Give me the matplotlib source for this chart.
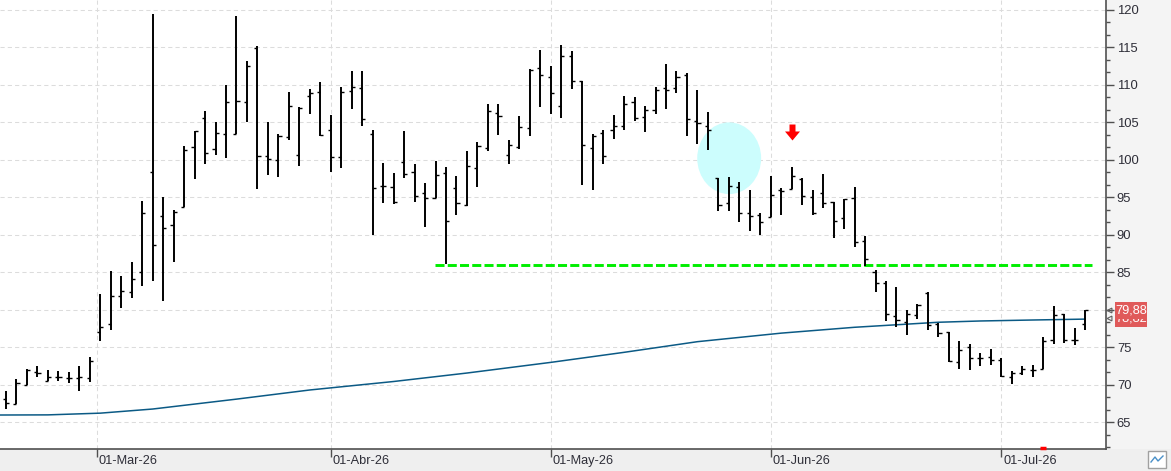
import matplotlib
matplotlib.use("Agg")
import matplotlib.pyplot as plt
import numpy as np
import pandas as pd
from matplotlib.patches import Ellipse, Rectangle
from matplotlib.path import Path
from matplotlib.transforms import blended_transform_factory, ScaledTranslation
from matplotlib.ticker import MultipleLocator, FixedLocator

plt.rcParams['font.family'] = ['Liberation Sans', 'DejaVu Sans']

# daily bars, 17-Feb-26 .. 13-Jul-26 (Good Friday closed)
dates = pd.bdate_range('2026-02-17', '2026-07-13').drop(pd.Timestamp('2026-04-03'))
month_starts = pd.to_datetime(['2026-03-01', '2026-04-01', '2026-05-01', '2026-06-01', '2026-07-01'])
month_labels = ['01-Mar-26', '01-Abr-26', '01-May-26', '01-Jun-26', '01-Jul-26']

opens = [68.09, 67.40, 70.00, 71.69, 70.50, 71.00, 70.93, 70.93, 70.93, 77.00,
         78.07, 81.80, 82.38, 84.95, 98.31, 92.45, 91.25, 93.65, 101.63, 105.49,
         101.37, 103.36, 103.36, 107.62, 114.81, 100.43, 99.90, 102.96, 100.57, 108.46,
         108.95, 103.90, 100.30, 109.09, 109.49, 103.36, 96.44, 96.31, 99.64, 98.31,
         95.51, 94.85, 98.17, 96.18, 93.87, 98.84, 101.50, 106.16, 100.57, 101.72,
         104.16, 112.19, 110.99, 107.13, 113.74, 110.42, 101.50, 103.50, 103.90, 104.43,
         107.62, 105.63, 106.56, 109.49, 109.49, 111.22, 105.14, 104.43, 97.51, 94.18,
         96.31, 92.89, 92.58, 92.32, 95.95, 96.04, 97.37, 94.98, 95.51, 94.40,
         92.18, 94.85, 89.12, 85.04, 83.53, 79.14, 78.34, 79.27, 82.24, 78.12,
         77.01, 73.06, 75.01, 73.59, 73.68, 73.28, 71.06, 71.51, 71.91, 72.09,
         75.94, 79.41, 75.94, 78.07]
highs = [69.11, 70.67, 72.09, 72.44, 72.00, 71.86, 71.64, 72.44, 73.64, 82.11,
         85.08, 84.50, 86.28, 94.49, 119.38, 94.98, 93.25, 101.77, 103.85, 106.47,
         105.00, 109.93, 119.11, 113.12, 115.12, 105.00, 103.36, 109.00, 107.00, 109.35,
         110.33, 105.94, 109.66, 111.79, 111.79, 103.94, 99.55, 98.22, 103.81, 99.41,
         96.89, 99.86, 99.02, 97.82, 101.14, 102.34, 107.40, 107.40, 102.61, 105.80,
         112.06, 114.59, 112.46, 115.25, 114.41, 110.42, 103.45, 103.94, 105.98, 108.51,
         108.33, 107.13, 109.66, 112.68, 111.79, 111.48, 109.26, 106.34, 97.51, 97.64,
         97.02, 95.95, 92.89, 97.82, 96.18, 98.97, 97.51, 95.95, 98.08, 94.40,
         94.76, 96.35, 89.83, 85.26, 83.80, 83.00, 79.98, 80.74, 82.33, 78.21,
         77.01, 75.86, 75.46, 74.22, 74.79, 73.59, 71.86, 72.53, 72.66, 76.39,
         80.51, 79.41, 77.59, 79.94]
lows = [66.76, 67.34, 70.00, 70.98, 70.45, 70.45, 70.20, 69.10, 70.31, 75.77,
        77.23, 80.16, 81.49, 83.09, 83.75, 81.09, 86.28, 93.65, 97.46, 99.46,
        100.61, 100.26, 103.36, 105.05, 96.13, 98.00, 97.64, 102.65, 99.19, 106.03,
        103.19, 98.39, 98.93, 106.78, 104.52, 89.88, 94.23, 94.09, 97.60, 94.40,
        90.94, 94.84, 86.06, 92.63, 93.78, 96.40, 101.19, 103.27, 99.41, 101.41,
        103.14, 107.05, 106.11, 105.58, 109.44, 96.66, 96.00, 99.41, 102.79, 103.98,
        105.18, 103.72, 106.02, 106.78, 108.82, 103.19, 102.12, 101.32, 93.07, 93.07,
        91.61, 90.50, 89.88, 92.32, 92.63, 96.04, 93.87, 92.54, 93.60, 89.48,
        90.67, 88.28, 85.75, 82.29, 78.43, 77.63, 76.57, 78.70, 77.23, 76.34,
        72.97, 72.09, 71.91, 72.44, 72.62, 71.06, 70.09, 71.29, 71.02, 72.09,
        75.37, 75.50, 75.23, 77.23]
closes = [67.47, 70.22, 72.00, 71.55, 71.00, 71.00, 70.84, 71.00, 73.15, 77.67,
          81.80, 82.51, 84.11, 92.85, 88.63, 90.85, 92.98, 101.23, 103.76, 100.83,
          103.50, 107.62, 107.76, 112.41, 100.43, 100.04, 103.10, 107.13, 106.82, 108.82,
          103.23, 100.30, 108.95, 109.66, 105.36, 96.18, 96.44, 94.40, 98.04, 95.11,
          94.85, 97.91, 91.78, 94.18, 99.10, 101.77, 106.42, 105.76, 101.90, 104.29,
          111.88, 111.22, 108.82, 113.74, 110.42, 101.90, 103.10, 100.43, 104.43, 107.36,
          105.49, 106.56, 109.22, 109.22, 110.99, 105.36, 104.83, 103.90, 93.91, 96.44,
          92.85, 92.45, 91.65, 95.24, 95.78, 97.77, 95.11, 92.85, 94.18, 91.78,
          94.76, 88.99, 86.73, 83.53, 79.41, 78.61, 79.41, 80.60, 77.94, 76.88,
          73.15, 74.61, 73.59, 73.59, 73.28, 71.20, 71.60, 72.09, 71.91, 75.81,
          79.27, 75.94, 75.94, 79.88]

# long moving average, read at some bars
ma_bars = [-1, 4, 9, 14, 22, 29, 37, 44, 52, 59, 66, 74, 81, 89, 93, 98, 103]
ma_vals = [65.93, 65.95, 66.18, 66.73, 68.05, 69.27, 70.40, 71.53, 72.95, 74.29,
           75.71, 76.85, 77.63, 78.30, 78.47, 78.60, 78.72]
ma_last = 78.82

support_level = 85.95
support_start = 40.95
support_end = 103.67
signal_bar = 75
event_bar = 99

idx = np.arange(len(closes))
tick_pos = np.interp(month_starts.map(pd.Timestamp.toordinal),
                     dates.map(pd.Timestamp.toordinal), idx)

fig = plt.figure(figsize=(11.71, 4.71), dpi=100, facecolor='#f4f4f4')
# grey strip under the date axis
fig.patches.append(Rectangle((0, 0), 1, 22 / 471, transform=fig.transFigure,
                             facecolor='#efefef', edgecolor='none', zorder=-1))
ax = fig.add_axes([0, 22 / 471, 1105.7 / 1171, 449 / 471])
ax.set_facecolor('white')

# grid
for v in np.arange(65, 121, 5):
    ax.axhline(v, color='#dcdcdc', lw=0.75, ls=(0, (4, 3)), zorder=0)
for p in tick_pos:
    ax.axvline(p, color='#dcdcdc', lw=0.75, ls=(0, (4, 3)), zorder=0)

# highlighted zone
ax.add_patch(Ellipse((69.03, 100.17), 6.1, 9.56, facecolor='#ccfdfd',
                     edgecolor='none', zorder=1))

ax.plot(ma_bars, ma_vals, color='#0b5a85', lw=1.1, zorder=2)
ax.plot([support_start, support_end], [support_level, support_level],
        color='#00ee00', lw=2.1, ls=(0, (3.1, 1.1)), zorder=2)

# OHLC bars
ax.vlines(idx, lows, highs, color='black', lw=1.4, zorder=3)
ax.hlines(opens, idx - 0.3, idx, color='black', lw=1.0, zorder=3)
ax.hlines(closes, idx, idx + 0.3, color='black', lw=1.0, zorder=3)

# red signal arrow
arrow = Path([(-3, 8), (3, 8), (3, 1), (7.5, 1), (0, -8), (-7.5, 1), (-3, 1), (-3, 8)])
ax.plot([signal_bar], [highs[signal_bar] + 4.7], marker=arrow, markersize=11.5,
        color='#ff0000', mec='none', zorder=4)
bt = blended_transform_factory(ax.transData, ax.transAxes)
ax.plot([event_bar], [0.003], marker='_', markersize=4, mew=2.5, color='#ff0000',
        transform=bt, clip_on=False, zorder=5)

ax.set_xlim(-0.573, 104.97)
ax.set_ylim(61.4, 121.27)

for s in ['left', 'top']:
    ax.spines[s].set_visible(False)
for s in ['right', 'bottom']:
    ax.spines[s].set_color('#505050')
    ax.spines[s].set_linewidth(1.2)

ax.yaxis.tick_right()
ax.yaxis.set_major_locator(MultipleLocator(5))
ax.yaxis.set_minor_locator(MultipleLocator(5 / 3))
ax.tick_params(axis='y', which='major', length=5.5, width=1, color='#505050',
               pad=2.5, labelsize=9.4, labelcolor='#2e2e38')
ax.tick_params(axis='y', which='minor', length=2.8, width=1, color='#505050')
ax.yaxis.set_major_formatter(plt.FuncFormatter(lambda v, p: '%d' % v))

ax.xaxis.set_major_locator(FixedLocator(tick_pos))
ax.set_xticklabels([])
ax.tick_params(axis='x', length=6, width=1, color='#505050')
lt = bt + ScaledTranslation(2 / 100, 0, fig.dpi_scale_trans)
for p, lab in zip(tick_pos, month_labels):
    ax.text(p, -0.0278, lab, transform=lt, ha='left', va='center',
            fontsize=9.2, color='#2e2e38')

# last price / average labels on the axis (the price label sits over the average one)
at = blended_transform_factory(ax.transAxes, ax.transData)
for val, z in [(ma_last, 6), (closes[-1], 7)]:
    ax.add_patch(Rectangle((1.0084, val - 1.13), 0.0292, 2.26, transform=at,
                           facecolor='#e05a5a', edgecolor='none', clip_on=False, zorder=z))
    ax.text(1.0229, val, ('%.2f' % val).replace('.', ','), transform=at,
            ha='center', va='center', fontsize=9.2, color='white', zorder=z,
            clip_on=False)
    ax.plot([1.0028], [val], marker='<', markersize=3.5, fillstyle='none',
            mew=0.8, color='#606060', transform=at, clip_on=False, zorder=z)

# small icon bottom right
fig.patches.append(Rectangle((1148 / 1171, 3 / 471), 18 / 1171, 17 / 471,
                             transform=fig.transFigure, facecolor='white',
                             edgecolor='#a0a0a0', lw=1, zorder=5))
fig.lines.append(plt.Line2D([1151 / 1171, 1155 / 1171, 1158 / 1171, 1163 / 1171],
                            [9 / 471, 14 / 471, 10 / 471, 15 / 471],
                            transform=fig.transFigure, color='#4a90c8', lw=1, zorder=6))

fig.savefig('out.png', dpi=100, facecolor=fig.get_facecolor())
